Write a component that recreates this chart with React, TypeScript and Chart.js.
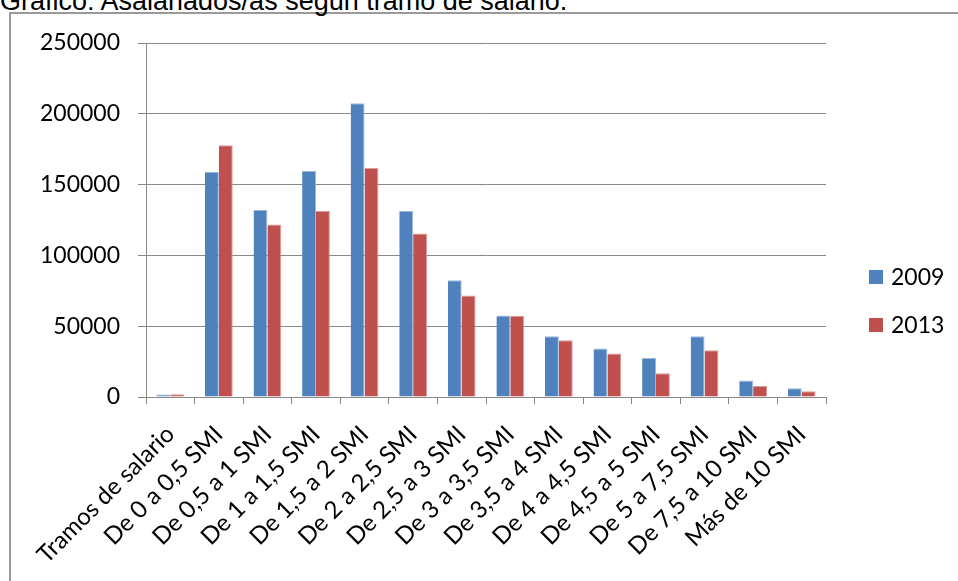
import React, { useEffect, useRef } from "react";
import { Chart, registerables } from "chart.js";
Chart.register(...registerables);

const titleText = "Gráfico: Asalariados/as según tramo de salario.";
const categories = [
  "Tramos de salario",
  "De 0 a 0,5 SMI",
  "De 0,5 a 1 SMI",
  "De 1 a 1,5 SMI",
  "De 1,5 a 2 SMI",
  "De 2 a 2,5 SMI",
  "De 2,5 a 3 SMI",
  "De 3 a 3,5 SMI",
  "De 3,5 a 4 SMI",
  "De 4 a 4,5 SMI",
  "De 4,5 a 5 SMI",
  "De 5 a 7,5 SMI",
  "De 7,5 a 10 SMI",
  "Más de 10 SMI",
];
const seriesNames = ["2009", "2013"];
const values2009 = [1800, 159100, 132000, 159600, 207500, 131300, 82500, 57500, 42900, 34200, 27600, 42900, 11600, 6200];
const values2013 = [1900, 177800, 121900, 131300, 161700, 115500, 71700, 57300, 40100, 30700, 16800, 33000, 7800, 4000];
const yMin = 0;
const yMax = 250000;
const yStep = 50000;

const COLORS = ["#4F81BD", "#C0504D"];
const EDGE = ["#9db7d9", "#dc9c9a"];
const GRID = "#888888";
const FONT = "Lato";

const legendPlugin = {
  id: "customLegend",
  afterDraw(chart: any) {
    const ctx = chart.ctx;
    ctx.save();
    chart.data.datasets.forEach((ds: any, i: number) => {
      const cy = 277 + i * 48;
      ctx.fillStyle = ds.backgroundColor;
      ctx.fillRect(869, cy - 7, 14, 14);
      ctx.fillStyle = "#000";
      ctx.font = `23px ${FONT}`;
      ctx.textAlign = "left";
      ctx.textBaseline = "middle";
      ctx.fillText(ds.label, 891, cy + 1);
    });
    ctx.restore();
  },
};

export default function App() {
  const ref = useRef<HTMLCanvasElement | null>(null);
  useEffect(() => {
    if (!ref.current) return;
    const chart = new Chart(ref.current, {
      type: "bar",
      data: {
        labels: categories,
        datasets: [values2009, values2013].map((vals, i) => ({
          label: seriesNames[i],
          data: vals,
          backgroundColor: COLORS[i],
          borderColor: EDGE[i],
          borderWidth: { top: 1, right: 1, left: 0, bottom: 0 },
          borderSkipped: "bottom",
          categoryPercentage: 2 / 3.5,
          barPercentage: 1,
        })),
      },
      options: {
        responsive: false,
        animation: false,
        devicePixelRatio: 1,
        layout: { padding: { left: 0, top: 43, right: 132, bottom: 0 } },
        plugins: {
          legend: { display: false },
          title: { display: false },
          tooltip: { enabled: false },
        },
        scales: {
          x: {
            grid: {
              offset: true,
              drawOnChartArea: false,
              drawTicks: true,
              tickLength: 7,
              color: GRID,
              lineWidth: 1,
            },
            border: { display: true, color: GRID, width: 1 },
            ticks: {
              autoSkip: false,
              maxRotation: 45,
              minRotation: 45,
              padding: 16,
              color: "#000",
              font: { family: FONT, size: 24 },
            },
            afterFit: (scale: any) => {
              scale.height = 184;
            },
          },
          y: {
            min: yMin,
            max: yMax,
            grid: { color: GRID, lineWidth: 1, tickLength: 8, drawTicks: true },
            border: { display: true, color: GRID, width: 1 },
            ticks: {
              stepSize: yStep,
              padding: 18,
              color: "#000",
              font: { family: FONT, size: 23 },
              callback: (v: any) => String(v),
            },
            afterFit: (scale: any) => {
              scale.width = 146;
            },
          },
        },
      },
      plugins: [legendPlugin],
    });
    return () => chart.destroy();
  }, []);

  return (
    <div
      style={{
        position: "fixed",
        left: 0,
        top: 0,
        width: 958,
        height: 581,
        overflow: "hidden",
        background: "#fff",
      }}
    >
      <div
        style={{
          position: "absolute",
          left: 9,
          top: 12,
          right: -10,
          bottom: -10,
          borderLeft: "2px solid #9a9a9a",
          borderTop: "2px solid #9a9a9a",
        }}
      />
      <div
        style={{
          position: "absolute",
          left: 0,
          top: -12,
          fontFamily: "'Liberation Sans', Arial, sans-serif",
          fontSize: 27,
          lineHeight: "27px",
          whiteSpace: "nowrap",
          color: "#000",
        }}
      >
        {titleText}
      </div>
      <canvas
        ref={ref}
        width={958}
        height={581}
        style={{ position: "absolute", left: 0, top: 0, width: 958, height: 581 }}
      />
    </div>
  );
}
